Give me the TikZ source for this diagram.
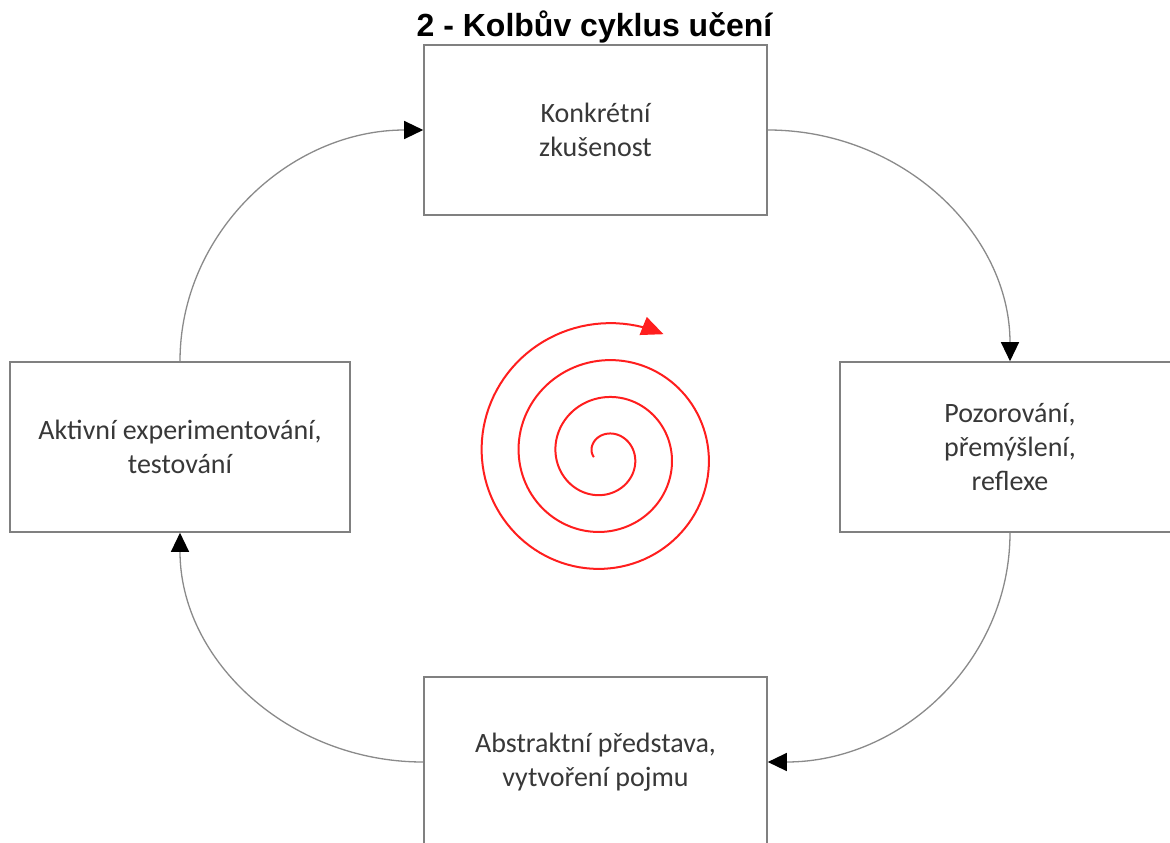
\documentclass[tikz,border=0pt]{standalone}
\usepackage{fontspec}
\setmainfont{Carlito}
\newfontfamily\titlefont{Liberation Sans}
\usetikzlibrary{arrows.meta}
\definecolor{boxgray}{HTML}{808080}
\definecolor{linegray}{HTML}{8A8A8A}
\definecolor{txtgray}{HTML}{383838}
\definecolor{spiralred}{HTML}{FF1E1E}
\begin{document}
\begin{tikzpicture}[x=1pt,y=-1pt,
  box/.style={draw=boxgray, line width=1.6pt, fill=white, minimum width=343pt, minimum height=170pt, inner sep=0pt, align=center, text=txtgray, font=\fontsize{28}{34}\selectfont},
  conn/.style={draw=linegray, line width=1.3pt, -{Triangle[length=19pt,width=18pt,color=black]}},
  spiralline/.style={draw=spiralred, line width=2pt, -{Triangle[length=22pt,width=19pt,color=spiralred]}},
  titlestyle/.style={font=\titlefont\bfseries\fontsize{32}{36}\selectfont, anchor=base, inner sep=0pt}
]
\useasboundingbox (0,0) rectangle (1170,843);
\clip (0,0) rectangle (1170,843);
\fill[white] (0,0) rectangle (1170,843);

\node[titlestyle] (title) at (594.5,37) {2 - Kolbův cyklus učení};

\node[box] (top) at (595.5,130) {Konkrétní\\zkušenost};
\node[box, minimum width=340pt] (right) at (1010,447) {Pozorování,\\přemýšlení,\\reflexe};
\node[box, minimum width=340pt] (left) at (180,447) {Aktivní experimentování,\\testování};
\node[box] (bottom) at (595.5,762) {Abstraktní představa,\\vytvoření pojmu};

\draw[conn] (top.east) .. controls +(134,0) and +(0,-128) .. (right.north);
\draw[conn] (right.south) .. controls +(0,128) and +(134,0) .. (bottom.east);
\draw[conn] (bottom.west) .. controls +(-134,0) and +(0,128) .. (left.south);
\draw[conn] (left.north) .. controls +(0,-128) and +(-134,0) .. (top.west);

\draw[spiralline] plot[domain=-100:1106, samples=400, variable=\t]
  ({604.5+(21+\t/360*37)*sin(\t)}, {455.25-(21+\t/360*37)*cos(\t)});
\end{tikzpicture}
\end{document}
